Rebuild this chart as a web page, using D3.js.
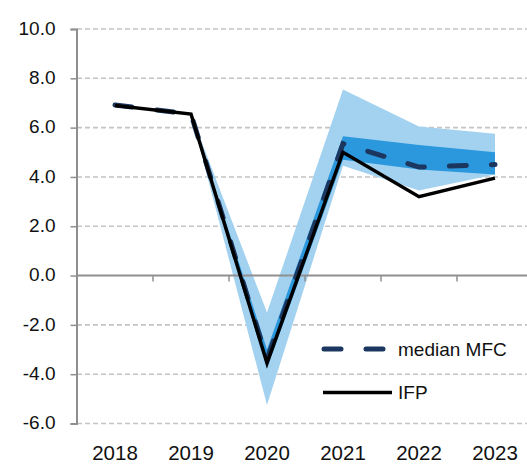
<!DOCTYPE html>
<html>
<head>
<meta charset="utf-8">
<script src="https://cdn.jsdelivr.net/npm/d3@7"></script>
<style>
  body { margin: 0; background: #fff; }
  text { font-family: "Liberation Sans", Arial, sans-serif; fill: #111; }
</style>
</head>
<body>
<script>
var years = ["2018", "2019", "2020", "2021", "2022", "2023"];
var ifp = [6.9, 6.55, -3.55, 5.0, 3.2, 3.95];
var medianMfc = [6.92, 6.55, -3.4, 5.35, 4.4, 4.5];
// forecast ranges (start at 2019)
var lightLow  = [null, 6.55, -5.25, 4.45, 3.45, 4.1];
var lightHigh = [null, 6.55, -1.5, 7.55, 6.05, 5.75];
var darkLow   = [null, 6.55, -3.75, 4.7, 4.3, 4.1];
var darkHigh  = [null, 6.55, -3.0, 5.65, 5.3, 5.0];
var yTicks = [-6, -4, -2, 0, 2, 4, 6, 8, 10];

var w = 527, h = 465;

var svg = d3.select('body').append('svg')
    .attr('width', w)
    .attr('height', h);

var xScale = d3.scaleBand()
    .domain(years)
    .range([77, 533])
    .padding(0);

var yScale = d3.scaleLinear()
    .domain([-6, 10])
    .range([423.5, 29]);

function cx(d, i) { return xScale(years[i]) + xScale.bandwidth() / 2; }

// gridlines
svg.append('g')
    .selectAll('line')
    .data(yTicks.filter(function (d) { return d !== 0; }))
    .enter()
    .append('line')
    .attr('x1', 77)
    .attr('x2', w)
    .attr('y1', function (d) { return yScale(d); })
    .attr('y2', function (d) { return yScale(d); })
    .attr('stroke', '#c4c4c4')
    .attr('stroke-width', 1.6)
    .attr('stroke-dasharray', '5,3');

// bands
var idx = d3.range(years.length).filter(function (i) { return lightLow[i] !== null; });

var lightArea = d3.area()
    .x(function (i) { return cx(null, i); })
    .y0(function (i) { return yScale(lightLow[i]); })
    .y1(function (i) { return yScale(lightHigh[i]); });

var darkArea = d3.area()
    .x(function (i) { return cx(null, i); })
    .y0(function (i) { return yScale(darkLow[i]); })
    .y1(function (i) { return yScale(darkHigh[i]); });

svg.append('path')
    .attr('d', lightArea(idx))
    .attr('fill', '#a3d2f0');

svg.append('path')
    .attr('d', darkArea(idx))
    .attr('fill', '#2b97dc');

// axes
var xAxisY = yScale(0);
svg.append('line')
    .attr('x1', 77).attr('x2', w)
    .attr('y1', xAxisY).attr('y2', xAxisY)
    .attr('stroke', '#8f8f8f').attr('stroke-width', 2);

svg.append('g')
    .selectAll('line')
    .data(years.slice(1))
    .enter()
    .append('line')
    .attr('x1', function (d) { return xScale(d); })
    .attr('x2', function (d) { return xScale(d); })
    .attr('y1', xAxisY)
    .attr('y2', xAxisY + 6)
    .attr('stroke', '#8f8f8f').attr('stroke-width', 1.5);

var yAxis = d3.axisLeft(yScale)
    .tickValues(yTicks)
    .tickSize(6)
    .tickPadding(15)
    .tickFormat(d3.format('.1f'));

var gy = svg.append('g')
    .attr('transform', 'translate(76.5,0)')
    .call(yAxis);
gy.select('.domain').attr('stroke', '#8f8f8f').attr('stroke-width', 2);
gy.selectAll('.tick line').attr('stroke', '#8f8f8f').attr('stroke-width', 1.5);
gy.selectAll('.tick text')
    .style('font-size', '19px')
    .attr('fill', '#111')
    .attr('dy', '0.28em')
    .text(function (d) { return d3.format('.1f')(d).replace('\u2212', '-'); });

svg.append('g')
    .selectAll('text')
    .data(years)
    .enter()
    .append('text')
    .attr('x', function (d) { return xScale(d) + xScale.bandwidth() / 2; })
    .attr('y', 459.5)
    .attr('text-anchor', 'middle')
    .style('font-size', '20.5px')
    .text(function (d) { return d; });

// lines
var line = d3.line()
    .x(function (d, i) { return cx(d, i); })
    .y(function (d) { return yScale(d); });

svg.append('path')
    .attr('d', line(medianMfc))
    .attr('fill', 'none')
    .attr('stroke', '#1b365f')
    .attr('stroke-width', 5)
    .attr('stroke-linecap', 'round')
    .attr('stroke-dasharray', '17,25');

svg.append('path')
    .attr('d', line(ifp))
    .attr('fill', 'none')
    .attr('stroke', '#000')
    .attr('stroke-width', 3.5);

// legend
var legend = svg.append('g');
legend.append('line')
    .attr('x1', 324).attr('x2', 383)
    .attr('y1', 349).attr('y2', 349)
    .attr('stroke', '#1b365f')
    .attr('stroke-width', 5)
    .attr('stroke-linecap', 'round')
    .attr('stroke-dasharray', '17,25');
legend.append('text')
    .attr('x', 398).attr('y', 356)
    .style('font-size', '19px')
    .text('median MFC');
legend.append('line')
    .attr('x1', 323).attr('x2', 392)
    .attr('y1', 392.5).attr('y2', 392.5)
    .attr('stroke', '#000')
    .attr('stroke-width', 3.5);
legend.append('text')
    .attr('x', 398).attr('y', 399)
    .style('font-size', '19px')
    .text('IFP');
</script>
</body>
</html>
